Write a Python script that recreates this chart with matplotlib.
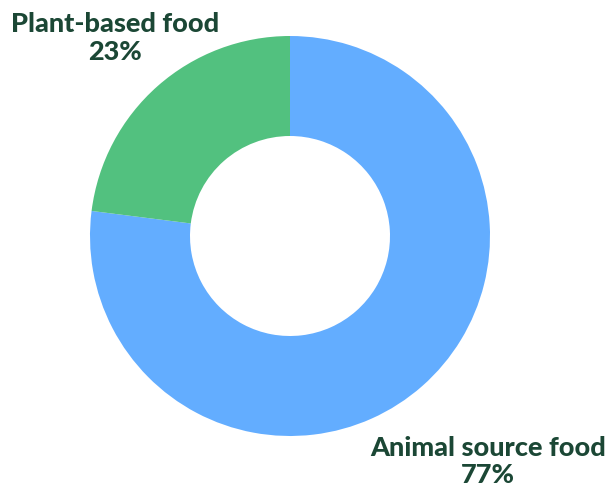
import matplotlib.pyplot as plt

labels = ["Animal source food", "Plant-based food"]
shares = [77, 23]
colors = ["#63adff", "#52c17f"]

TEXT_COLOR = "#1b4735"

fig = plt.figure(figsize=(6.11, 4.9), dpi=100)
ax = fig.add_axes([90 / 611, 54 / 490, 400 / 611, 400 / 490])

ax.pie(
    shares,
    colors=colors,
    startangle=90,
    counterclock=False,
    radius=1.0,
    wedgeprops=dict(width=0.5, linewidth=0),
)
ax.set_xlim(-1, 1)
ax.set_ylim(-1, 1)
ax.set_aspect("equal")

# labels sit outside the ring
label_pos = {"Animal source food": (0.99, -1.125), "Plant-based food": (-0.875, 0.99)}
for name, val in zip(labels, shares):
    x, y = label_pos[name]
    ax.text(
        x, y, f"{name}\n{val}%",
        ha="center", va="center",
        fontsize=19.5, fontweight="black", family="Lato",
        color=TEXT_COLOR, linespacing=1.15, clip_on=False,
    )

fig.savefig("out.png", dpi=100)
